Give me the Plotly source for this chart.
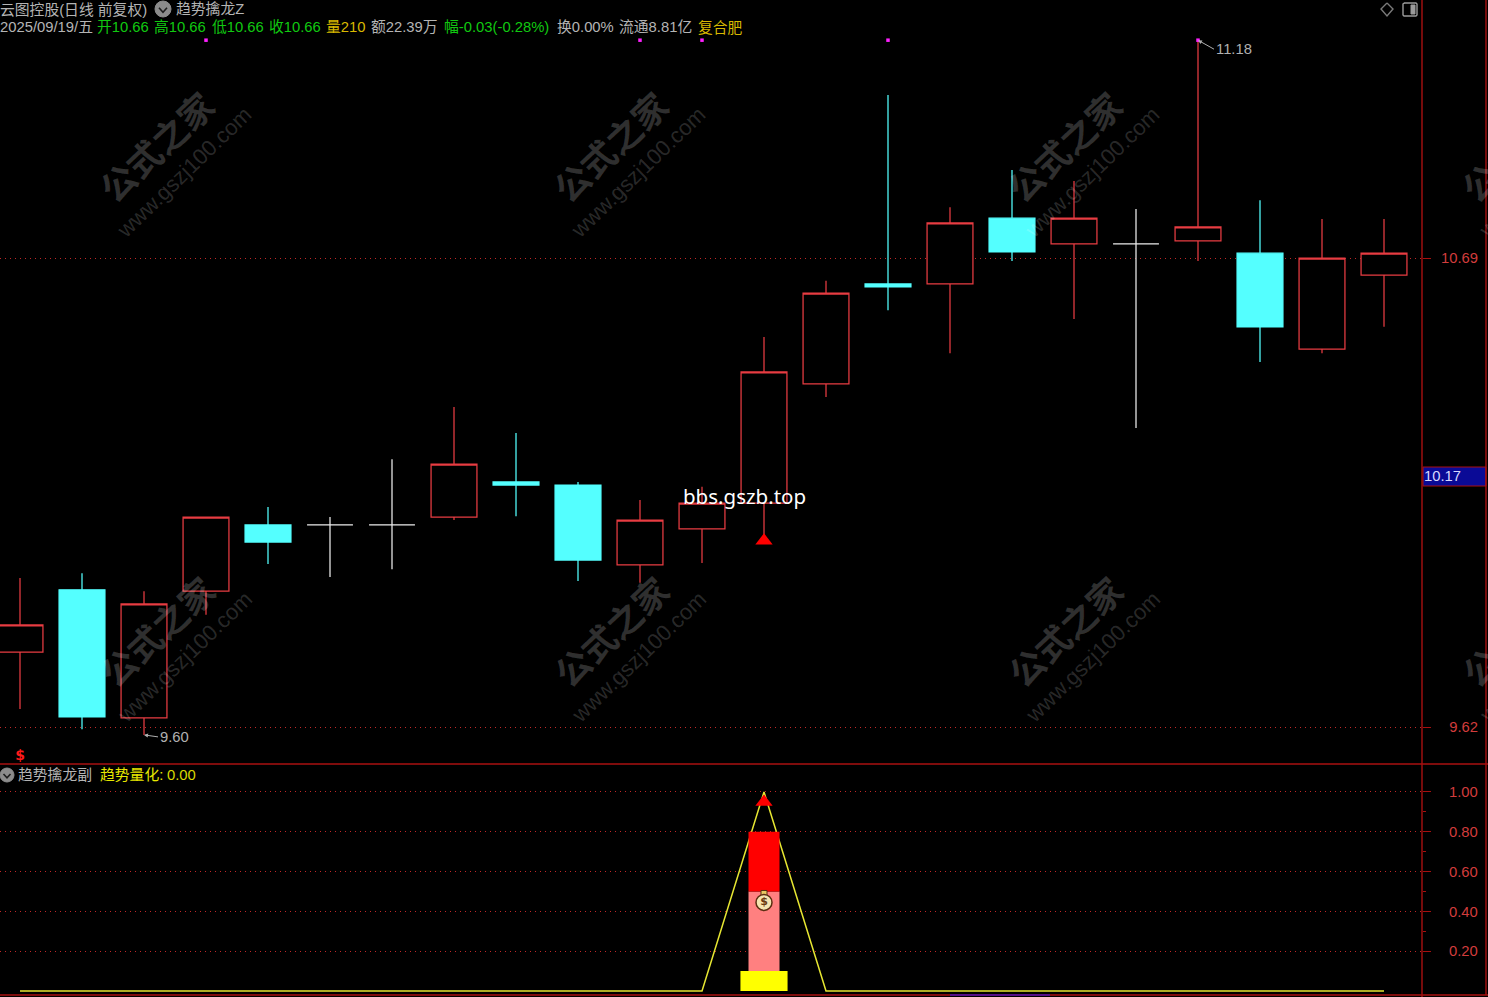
import plotly.graph_objects as go

W, H = 1488, 997
PLOT_R, SPLIT_Y, BOTTOM_Y, RIGHT_R = 1422, 764, 995, 1486

# ---------- data ----------
idx = list(range(23))
highs = [9.960, 9.971, 9.930, 10.099, 10.122, 10.099, 10.231, 10.350, 10.291, 10.179, 10.138, 10.168,
         10.510, 10.638, 11.062, 10.806, 10.891, 10.866, 10.802, 11.187, 10.822, 10.779, 10.779]
tops = [9.853, 9.933, 9.901, 10.099, 10.081, 10.081, 10.081, 10.220, 10.179, 10.172, 10.092, 10.131,
        10.430, 10.610, 10.631, 10.770, 10.781, 10.781, 10.722, 10.761, 10.701, 10.690, 10.701]
bottoms = [9.791, 9.643, 9.641, 9.930, 10.042, 10.081, 10.081, 10.099, 10.172, 10.001, 9.990, 10.072,
           10.131, 10.403, 10.624, 10.631, 10.704, 10.722, 10.722, 10.729, 10.533, 10.482, 10.651]
lows = [9.661, 9.615, 9.602, 9.876, 9.992, 9.962, 9.980, 10.092, 10.101, 9.953, 9.949, 9.994,
        10.047, 10.373, 10.571, 10.473, 10.683, 10.551, 10.302, 10.683, 10.453, 10.473, 10.533]
kinds = ["r", "c", "r", "r", "c", "w", "w", "r", "c", "c", "r", "r",
         "r", "r", "c", "r", "c", "r", "w", "r", "c", "r", "r"]

marker_idx = [3, 10, 11, 14, 19]
marker_price = [11.187, 11.187, 11.187, 11.187, 11.187]
signal_idx, signal_price = [12], [10.045]
dollar_idx, dollar_price = [0], [9.552]

price_ticks = [9.62, 10.69]
price_labels = ["\u00a0\u00a09.62", "10.69"]

sub_ticks = [0.2, 0.4, 0.6, 0.8, 1.0]
sub_labels = ["0.20", "0.40", "0.60", "0.80", "1.00"]
sub_minor = [0.3, 0.5, 0.7, 0.9]
trend_values = [0, 0, 0, 0, 0, 0, 0, 0, 0, 0, 0, 0, 1, 0, 0, 0, 0, 0, 0, 0, 0, 0, 0]
bar_idx = [12]
pink_base, pink_top = 0.1, 0.5
red_base, red_top = 0.5, 0.8
yellow_base, yellow_top = 0.0, 0.1
sub_triangle = 0.95
bag_value = 0.445

GREEN, YELLOW, GREY = "#11c811", "#d8b800", "#b4b4b4"
header_row1 = [("云图控股(日线 前复权)", 0, GREY), ("趋势擒龙Z", 176, GREY)]
header_row2 = [("2025/09/19/五", 0, GREY), ("开10.66", 97, GREEN), ("高10.66", 154, GREEN),
               ("低10.66", 212, GREEN), ("收10.66", 269, GREEN), ("量210", 326, YELLOW),
               ("额22.39万", 371, GREY), ("幅-0.03(-0.28%)", 444, GREEN), ("换0.00%", 557, GREY),
               ("流通8.81亿", 619, GREY), ("复合肥", 698, YELLOW)]
sub_header = [("趋势擒龙副", 18, GREY), ("趋势量化:", 100, "#e8e800"), ("0.00", 167, "#d8d800")]
wm_x = [158, 612, 1066, 1520]
wm_y = [148, 632]

# ---------- helpers ----------
def px(x):
    return x / W

def py(y):
    return 1 - y / H

P_TOP = 9.62 + 727 / 438.3
P_BOT = 9.62 - 37 / 438.3
X0 = -20 / 62
X1 = (PLOT_R - 20) / 62
S_TOP = 1 + 27 / 199.5
S_BOT = -4 / 199.5

RED = "#e83c42"
CYAN = "#54ffff"
WHITE = "#ececec"
FRAME = "#a81010"
GRID = "#c02828"
LABEL = "#d23c3c"
FONT = "Liberation Sans, Noto Sans CJK SC, sans-serif"

fig = go.Figure()

def candles(kind, color, fill):
    sel = [i for i in idx if kinds[i] == kind]
    up = kind != "c"
    o = [bottoms[i] if up else tops[i] for i in sel]
    c = [tops[i] if up else bottoms[i] for i in sel]
    side = dict(line=dict(color=color, width=1.25), fillcolor=fill)
    fig.add_trace(go.Candlestick(
        x=sel, open=o, close=c, high=[highs[i] for i in sel], low=[lows[i] for i in sel],
        increasing=side, decreasing=side, whiskerwidth=0, xaxis="x", yaxis="y",
        showlegend=False, hoverinfo="skip"))

candles("r", RED, "#000000")
candles("c", CYAN, CYAN)
candles("w", WHITE, WHITE)

fig.add_trace(go.Scatter(x=marker_idx, y=marker_price, mode="markers", xaxis="x", yaxis="y",
                         marker=dict(symbol="square", size=3.5, color="#ff20ff"),
                         showlegend=False, hoverinfo="skip"))
fig.add_trace(go.Scatter(x=signal_idx, y=signal_price, mode="markers", xaxis="x", yaxis="y",
                         marker=dict(symbol="triangle-up", size=15, color="#ff0000"),
                         showlegend=False, hoverinfo="skip"))
fig.add_trace(go.Scatter(x=dollar_idx, y=dollar_price, mode="text", text=["<b>$</b>"], xaxis="x", yaxis="y",
                         textfont=dict(family="DejaVu Sans", size=14, color="#ff1a1a"),
                         showlegend=False, hoverinfo="skip"))

# lower panel: line below, bars above (overlay subplot)
fig.add_trace(go.Scatter(x=idx, y=trend_values, mode="lines", xaxis="x2", yaxis="y2",
                         line=dict(color="#e6e632", width=1.5), showlegend=False, hoverinfo="skip"))
for base, top, width, color in [(pink_base, pink_top, 0.5, "#ff8080"),
                                (red_base, red_top, 0.5, "#ff0000"),
                                (yellow_base, yellow_top, 0.76, "#ffff00")]:
    fig.add_trace(go.Bar(x=bar_idx, y=[top - base], base=[base], width=width, xaxis="x3", yaxis="y3",
                         marker=dict(color=color, line=dict(width=0)),
                         showlegend=False, hoverinfo="skip"))
fig.add_trace(go.Scatter(x=bar_idx, y=[sub_triangle], mode="markers", xaxis="x3", yaxis="y3",
                         marker=dict(symbol="triangle-up", size=15, color="#ff0000"),
                         showlegend=False, hoverinfo="skip"))
fig.add_trace(go.Scatter(x=bar_idx, y=[bag_value + 0.045], mode="markers", xaxis="x3", yaxis="y3",
                         marker=dict(symbol="square", size=6, color="#e8c860", line=dict(color="#5a2d10", width=1)),
                         showlegend=False, hoverinfo="skip"))
fig.add_trace(go.Scatter(x=bar_idx, y=[bag_value], mode="markers+text", text=["<b>$</b>"], textposition="middle center",
                         xaxis="x3", yaxis="y3",
                         textfont=dict(family="DejaVu Sans", size=11, color="#6a3a10"),
                         marker=dict(symbol="circle", size=16, color="#f4e4b0", line=dict(color="#5a2d10", width=1.5)),
                         showlegend=False, hoverinfo="skip"))

# ---------- annotations ----------
ann = []
def label(text, x, y, color, size=14.8, anchor="left", **kw):
    ann.append(dict(text=text, xref="paper", yref="paper", x=px(x), y=py(y), xanchor=anchor, yanchor="middle",
                    showarrow=False, borderpad=0, borderwidth=0, font=dict(family=FONT, size=size, color=color), **kw))

for xc in wm_x:
    for yc in wm_y:
        label("<b>公式之家</b>", xc, yc, "rgba(255,255,255,0.19)", size=35, anchor="center", textangle=-43)
        label("www.gszj100.com", xc + 26, yc + 25, "rgba(255,255,255,0.17)", size=22, anchor="center", textangle=-44)

for text, x, color in header_row1:
    label(text, x, 9, color)
for text, x, color in header_row2:
    label(text, x, 27, color)
for text, x, color in sub_header:
    label(text, x, 775, color)
label("10.17", 1424, 476, "#d8d8ff", size=14.8)
ann.append(dict(text="bbs.gszb.top", xref="paper", yref="paper", x=px(744), y=py(496), xanchor="center", yanchor="middle",
                showarrow=False, font=dict(family="Noto Sans", size=20.5, color="#ffffff")))
ann.append(dict(text="11.18", x=19, y=11.187, xref="x", yref="y", ax=16, ay=9, axref="pixel", ayref="pixel",
                xanchor="left", showarrow=True, arrowhead=2, arrowsize=0.8, arrowwidth=1, arrowcolor="#b0b0b0",
                font=dict(family=FONT, size=14.8, color="#b0b0b0")))
ann.append(dict(text="9.60", x=2, y=9.602, xref="x", yref="y", ax=14, ay=2, axref="pixel", ayref="pixel",
                xanchor="left", showarrow=True, arrowhead=2, arrowsize=0.8, arrowwidth=1, arrowcolor="#b0b0b0",
                font=dict(family=FONT, size=14.8, color="#b0b0b0")))

# ---------- shapes ----------
shapes = []
def line(x0, y0, x1, y1, color=FRAME, width=1.4):
    shapes.append(dict(type="line", xref="paper", yref="paper", x0=px(x0), y0=py(y0), x1=px(x1), y1=py(y1),
                       line=dict(color=color, width=width), layer="above"))

line(PLOT_R, 0, PLOT_R, H)
line(RIGHT_R, 0, RIGHT_R, BOTTOM_Y)
line(0, SPLIT_Y, W, SPLIT_Y)
line(0, BOTTOM_Y, W, BOTTOM_Y)
line(950, BOTTOM_Y, 1050, BOTTOM_Y, color="#4a10b0", width=1.6)

def rect(x0, y0, x1, y1, fill, border=None):
    shapes.append(dict(type="rect", xref="paper", yref="paper", x0=px(x0), y0=py(y0), x1=px(x1), y1=py(y1),
                       fillcolor=fill, line=dict(color=border or fill, width=1), layer="below"))

rect(1423, 467, 1486, 486, "#0a0a96", FRAME)

def poly(points, fill="rgba(0,0,0,0)", border="#9a9a9a", width=1.4):
    path = "M " + " L ".join(f"{px(x)} {py(y)}" for x, y in points)
    shapes.append(dict(type="path", xref="paper", yref="paper", path=path,
                       fillcolor=fill, line=dict(color=border, width=width), layer="above"))

poly([(1387, 3), (1393, 9), (1387, 16), (1381, 9), (1387, 3)], border="#7a7a7a")
poly([(1404, 3), (1416, 3), (1417, 4), (1417, 15), (1416, 16), (1404, 16), (1403, 15), (1403, 4), (1404, 3)], border="#9a9a9a")
rect(1411, 5, 1415, 14, "#9a9a9a")
shapes[-1]["layer"] = "above"

def circle_icon(x, y, r):
    shapes.append(dict(type="circle", xref="paper", yref="paper", x0=px(x - r), x1=px(x + r), y0=py(y - r), y1=py(y + r),
                       fillcolor="#8c8c8c", line=dict(color="#8c8c8c", width=1), layer="above"))
    poly([(x - r * 0.5, y - r * 0.15), (x, y + r * 0.4), (x + r * 0.5, y - r * 0.15)], border="#1e1e1e", width=1.6)

circle_icon(163, 9, 8)
circle_icon(7, 775, 7)

x_common = dict(showgrid=False, zeroline=False, showticklabels=False, ticks="", showline=False,
                fixedrange=True)
y_common = dict(zeroline=False, showline=False, side="right", griddash="1px,4px", gridcolor=GRID, gridwidth=1,
                ticks="outside", ticklen=8, tickcolor=FRAME, tickwidth=1, fixedrange=True,
                tickfont=dict(family=FONT, size=14.8, color=LABEL))
top_dom = [py(SPLIT_Y), 1]
bot_dom = [py(BOTTOM_Y), py(SPLIT_Y + 1)]
x_dom = [0, px(PLOT_R)]

fig.update_layout(
    width=W, height=H, autosize=False, margin=dict(l=0, r=0, t=0, b=0, pad=0),
    paper_bgcolor="#000000", plot_bgcolor="#000000",
    showlegend=False, boxgap=0.26, boxgroupgap=0, barmode="overlay", hovermode=False,
    font=dict(family=FONT),
    xaxis=dict(domain=x_dom, range=[X0, X1], anchor="y", rangeslider=dict(visible=False), **x_common),
    yaxis=dict(domain=top_dom, range=[P_BOT, P_TOP], anchor="x", tickmode="array", tickvals=price_ticks,
               ticktext=price_labels, ticklabelstandoff=7, **y_common),
    xaxis2=dict(domain=x_dom, range=[X0, X1], anchor="y2", **x_common),
    yaxis2=dict(domain=bot_dom, range=[S_BOT, S_TOP], anchor="x2", tickmode="array", tickvals=sub_ticks,
                ticktext=sub_labels, ticklabelstandoff=15,
                minor=dict(tickmode="array", tickvals=sub_minor, ticks="outside", ticklen=3, tickcolor=FRAME, showgrid=False),
                **y_common),
    xaxis3=dict(domain=x_dom, range=[X0, X1], anchor="y3", overlaying="x2", visible=False, fixedrange=True),
    yaxis3=dict(domain=bot_dom, range=[S_BOT, S_TOP], anchor="x3", overlaying="y2", visible=False, fixedrange=True),
    annotations=ann, shapes=shapes,
)

fig.write_html("out.html", config=dict(displayModeBar=False),
               post_script="document.body.style.margin='0';document.body.style.background='#000';")
